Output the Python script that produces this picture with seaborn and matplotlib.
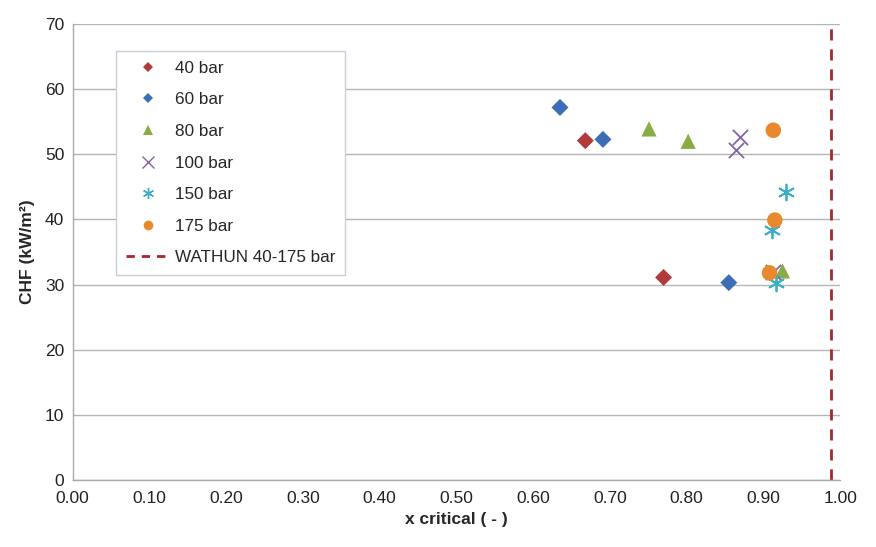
import matplotlib
matplotlib.use("Agg")
import matplotlib.pyplot as plt
from matplotlib.lines import Line2D
import pandas as pd
import seaborn as sns

pressure = ["40 bar", "40 bar",
            "60 bar", "60 bar", "60 bar",
            "80 bar", "80 bar", "80 bar",
            "100 bar", "100 bar", "100 bar",
            "150 bar", "150 bar", "150 bar",
            "175 bar", "175 bar", "175 bar"]
x_critical = [0.668, 0.770,
              0.635, 0.691, 0.855,
              0.751, 0.802, 0.925,
              0.870, 0.864, 0.912,
              0.930, 0.911, 0.917,
              0.913, 0.915, 0.908]
chf = [52.1, 31.1,
       57.2, 52.3, 30.3,
       53.9, 52.0, 32.1,
       52.6, 50.6, 32.0,
       44.2, 38.4, 30.3,
       53.7, 39.9, 31.8]
wathun_x = 0.988

groups = ["40 bar", "60 bar", "80 bar", "100 bar", "150 bar", "175 bar"]
colors = ["#B33A3A", "#3A6FB5", "#8AAC45", "#8464A8", "#3BAEC6", "#E9892E"]
markers = ["D", "D", "^", "x", (6, 2, 0), "o"]
sizes = [75, 75, 120, 120, 130, 125]
legend_sizes = [5.5, 5.5, 7, 8, 8, 7]

df = pd.DataFrame({"pressure": pressure, "x": x_critical, "chf": chf})

sns.set_style("white")
plt.rcParams["font.family"] = ["Liberation Sans", "DejaVu Sans"]

fig = plt.figure(figsize=(8.76, 5.47), dpi=100)
ax = fig.add_axes([0.083, 0.1225, 0.876, 0.8335])

for g, c, m, s in zip(groups, colors, markers, sizes):
    sub = df[df["pressure"] == g]
    lw = 1.3 if m in ("x", (6, 2, 0)) else 0
    sns.scatterplot(data=sub, x="x", y="chf", color=c, marker=m, s=s,
                    linewidth=lw, edgecolor=c if lw else "none", ax=ax, zorder=3)

ax.axvline(wathun_x, color="#A8262D", linestyle=(0, (4, 3.2)), linewidth=2, zorder=2)

ax.set_xlim(0, 1.0)
ax.set_ylim(0, 70)
ax.set_xticks([i / 10 for i in range(11)])
ax.set_xticklabels([f"{i / 10:.2f}" for i in range(11)])
ax.set_yticks(range(0, 71, 10))
ax.tick_params(axis="both", labelsize=12.5, direction="out", length=4, width=1,
               color="#AAAAAA", colors="#222222", pad=2)
ax.tick_params(axis="x", pad=4)
ax.yaxis.grid(True, color="#B5B5B5", linewidth=1)
ax.xaxis.grid(False)
for side in ["top", "right"]:
    ax.spines[side].set_visible(False)
for side in ["left", "bottom"]:
    ax.spines[side].set_color("#AAAAAA")
    ax.spines[side].set_linewidth(1)

ax.set_xlabel("x critical ( - )", fontsize=12.5, fontweight="bold", labelpad=4)
ax.set_ylabel("CHF (kW/m²)", fontsize=12.5, fontweight="bold", labelpad=7)

handles = []
for g, c, m, ms in zip(groups, colors, markers, legend_sizes):
    mew = 1 if m in ("x", (6, 2, 0)) else 0
    handles.append(Line2D([], [], linestyle="none", marker=m, color=c, markersize=ms,
                          markeredgewidth=mew, label=g))
handles.append(Line2D([], [], color="#A8262D", linestyle=(0, (3, 2.5)), linewidth=2,
                      label="WATHUN 40-175 bar"))
leg = ax.legend(handles=handles, loc="upper left", bbox_to_anchor=(0.057, 0.94),
                frameon=True, fancybox=False, fontsize=12.3, handlelength=2.6,
                labelspacing=0.97, borderpad=0.55, handletextpad=0.3, borderaxespad=0)
leg.get_frame().set_edgecolor("#C8D0D8")
leg.get_frame().set_linewidth(1)
leg.get_frame().set_alpha(1)

fig.savefig("out.png", dpi=100)
